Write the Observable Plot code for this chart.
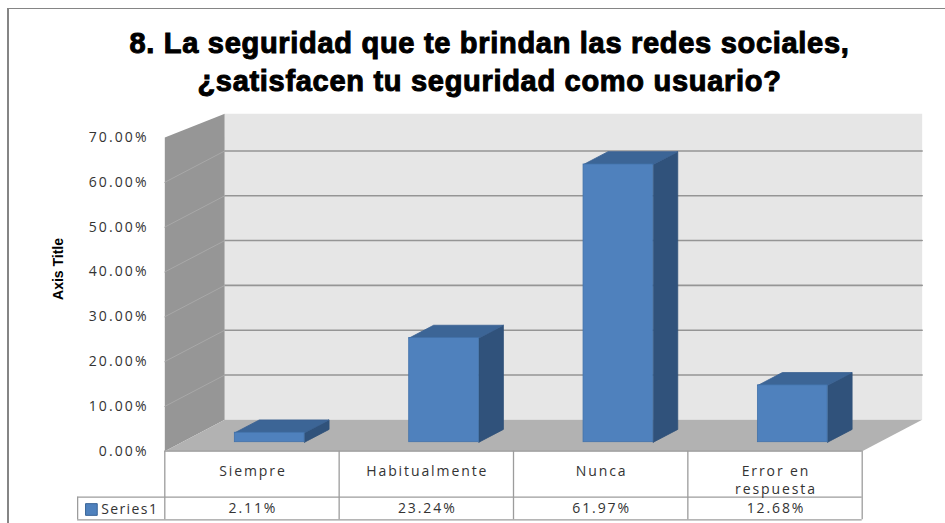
<!DOCTYPE html>
<html><head><meta charset="utf-8">
<script src="https://cdn.jsdelivr.net/npm/d3@7"></script>
<script src="https://cdn.jsdelivr.net/npm/@observablehq/plot@0.6"></script>
<style>
html,body{margin:0;padding:0;background:#fff;}
#wrap{position:relative;width:945px;height:523px;overflow:hidden;}
#frame{position:absolute;left:7px;top:8px;width:1200px;height:1200px;border-left:2px solid #858585;border-top:1px solid #858585;}
#title{position:relative;box-sizing:border-box;height:105px;padding-top:24px;padding-left:34px;text-align:center;font-family:"Liberation Sans",Arial,sans-serif;font-weight:bold;font-size:29px;line-height:38px;color:#000;letter-spacing:0.7px;-webkit-text-stroke:1px #000;white-space:nowrap;}
#chart{position:relative;height:418px;}
</style></head>
<body>
<div id="wrap">
  <div id="frame"></div>
  <div id="title">8. La seguridad que te brindan las redes sociales,<br>¿satisfacen tu seguridad como usuario?</div>
  <div id="chart"></div>
</div>
<script>
// ---- data ----
const categories = ["Siempre", "Habitualmente", "Nunca", "Error en\nrespuesta"];
const values = [2.11, 23.24, 61.97, 12.68];
const valueLabels = ["2.11%", "23.24%", "61.97%", "12.68%"];
const yTicks = [0, 10, 20, 30, 40, 50, 60, 70];
const yTickLabels = ["0.00%", "10.00%", "20.00%", "30.00%", "40.00%", "50.00%", "60.00%", "70.00%"];
const seriesName = "Series1";
const axisTitle = "Axis Title";

// ---- layout ----
const W = 945, H = 418;
const mL = 164.3, mR = 83.3, mT = 32, mB = 72.3;
const PX = (H - mB - mT) / 70;          // pixels per percent
const DX = 0.344, DY = 7.0;             // depth offset in data units (x categories, y percent)
const WALL_TOP_FRONT = 70, WALL_TOP_BACK = 68.3;
const BAR_X0 = 0.303, BAR_W = 0.40, BAR_D0 = 0.287, BAR_D1 = 0.695;
const FS = 14;

function poly(id, pts) {
  const p = pts.map(([x, y, d]) => ({id, x: x + d * DX, y: y + d * DY}));
  p.push({...p[0]});
  return p;
}
const n = categories.length;
const sideWall = poly("side", [[0,0,0],[0,WALL_TOP_FRONT,0],[0,WALL_TOP_BACK,1],[0,0,1]]);
const backWall = poly("back", [[0,0,1],[0,WALL_TOP_BACK,1],[n,WALL_TOP_BACK,1],[n,0,1]]);
const floor = poly("floor", [[0,0,0],[n,0,0],[n,0,1],[0,0,1]]);
const gridVals = yTicks.filter(t => t > 0 && t < WALL_TOP_BACK);
const backGrid = gridVals.flatMap(t => [{id:t, x:0+DX, y:t+DY}, {id:t, x:n+DX, y:t+DY}]);
const sideGrid = gridVals.flatMap(t => [{id:t, x:0, y:t}, {id:t, x:DX, y:t+DY}]);

const barTops = values.flatMap((v, i) => {
  const x0 = i + BAR_X0, x1 = x0 + BAR_W;
  return poly("t" + i, [[x0,v,BAR_D0],[x1,v,BAR_D0],[x1,v,BAR_D1],[x0,v,BAR_D1]]);
});
const barSides = values.flatMap((v, i) => {
  const x1 = i + BAR_X0 + BAR_W;
  return poly("s" + i, [[x1,0,BAR_D0],[x1,v,BAR_D0],[x1,v,BAR_D1],[x1,0,BAR_D1]]);
});
const barFronts = values.map((v, i) => ({
  x1: i + BAR_X0 + BAR_D0 * DX, x2: i + BAR_X0 + BAR_W + BAR_D0 * DX,
  y1: BAR_D0 * DY, y2: v + BAR_D0 * DY
}));

const gridStroke = "#9c9c9c";
const tableBottom = -68.6 / PX, headerBottom = -46 / PX;
const txt = {fill: "#333", fontSize: FS, fontFamily: '"Open Sans", sans-serif'};

const plot = Plot.plot({
  width: W, height: H,
  marginLeft: mL, marginRight: mR, marginTop: mT, marginBottom: mB,
  x: {domain: [0, n], axis: null},
  y: {domain: [0, 70], axis: null},
  style: {background: "transparent", fontFamily: '"Open Sans", sans-serif', fontSize: "14px", color: "#333", overflow: "visible"},
  marks: [
    Plot.line(sideWall, {x: "x", y: "y", z: "id", fill: "#969696", stroke: "none"}),
    Plot.line(backWall, {x: "x", y: "y", z: "id", fill: "#e6e6e6", stroke: "none"}),
    Plot.line(floor, {x: "x", y: "y", z: "id", fill: "#b2b2b2", stroke: "none"}),
    Plot.line(backGrid, {x: "x", y: "y", z: "id", stroke: "#959595", strokeWidth: 1.6}),
    Plot.line(sideGrid, {x: "x", y: "y", z: "id", stroke: "#a8a8a8", strokeWidth: 1}),
    Plot.line(barSides, {x: "x", y: "y", z: "id", fill: "#30527b", stroke: "#2f5078", strokeWidth: 0.8}),
    Plot.line(barTops, {x: "x", y: "y", z: "id", fill: "#3c6596", stroke: "#3a6192", strokeWidth: 0.8}),
    Plot.rect(barFronts, {x1: "x1", x2: "x2", y1: "y1", y2: "y2", fill: "#4f81bd", stroke: "#4272aa", strokeWidth: 0.8}),
    // data table
    Plot.ruleY([0], {x1: () => 0, x2: () => n, stroke: gridStroke, strokeWidth: 1.3}),
    Plot.ruleY([headerBottom], {x1: () => -0.5, x2: () => n, stroke: gridStroke, strokeWidth: 1.3}),
    Plot.ruleY([tableBottom], {x1: () => -0.5, x2: () => n, stroke: gridStroke, strokeWidth: 1.3}),
    Plot.ruleX(d3.range(n + 1), {y1: () => 0, y2: () => tableBottom, stroke: gridStroke, strokeWidth: 1.3}),
    Plot.ruleX([-0.5], {y1: () => headerBottom, y2: () => tableBottom, stroke: gridStroke, strokeWidth: 1.3}),
    Plot.text(categories, {...txt, x: (d, i) => i + 0.5, y: () => 0, text: d => d, lineAnchor: "top", lineHeight: 1.26, dy: 12.5, dx: 0.95, ariaLabel: () => "cat"}),
    Plot.text(valueLabels, {...txt, x: (d, i) => i + 0.5, y: () => 0, text: d => d, dy: 57.6, dx: 0.95, ariaLabel: () => "val"}),
    Plot.dot([seriesName], {x: () => -0.421, y: () => 0, dy: 58.3, symbol: "square", r: 6.6, fill: "#4f81bd", stroke: "#3a6598", strokeWidth: 1}),
    Plot.text([seriesName], {...txt, x: () => -0.365, y: () => 0, text: d => d, dy: 58.3, textAnchor: "start", ariaLabel: () => "series"}),
    // y axis labels
    Plot.text(yTicks, {...txt, x: () => 0, y: d => d, text: (d, i) => yTickLabels[i], textAnchor: "end", dx: -16.2, ariaLabel: () => "ytick"}),
    Plot.text([axisTitle], {frameAnchor: "left", text: d => d, rotate: -90, dx: -106.3, dy: 5.6, fontWeight: "bold", fontFamily: '"Liberation Sans", Arial, sans-serif', fontSize: 14, fill: "#000"})
  ]
});
for (const [lab, ls] of [["ytick", "2.1px"], ["cat", "1.9px"], ["val", "1.9px"], ["series", "1.4px"]]) {
  d3.select(plot).selectAll(`[aria-label="${lab}"]`).style("letter-spacing", ls);
}
document.getElementById("chart").appendChild(plot);
</script>
</body></html>
